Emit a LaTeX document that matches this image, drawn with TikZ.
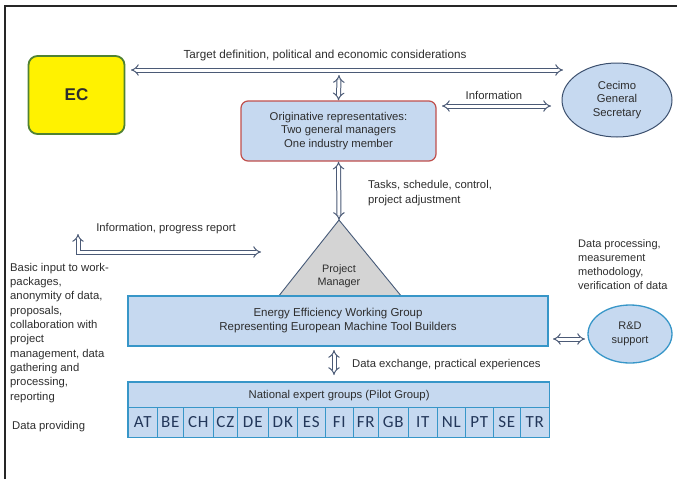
\documentclass[tikz,border=0pt]{standalone}
\usepackage{fontspec}
\setmainfont{Liberation Sans}
\newfontfamily\cellfont[LetterSpace=5]{Carlito}
\usetikzlibrary{arrows.meta,shapes.geometric}
\definecolor{lb}{RGB}{198,217,240}
\definecolor{eeb}{RGB}{55,150,200}
\definecolor{redb}{RGB}{192,80,77}
\definecolor{arr}{RGB}{75,90,118}
\definecolor{ellb}{RGB}{60,80,110}
\definecolor{trif}{RGB}{212,212,212}
\definecolor{trib}{RGB}{70,90,120}
\definecolor{ecb}{RGB}{80,130,50}
\definecolor{txt}{RGB}{45,45,45}
\definecolor{celltxt}{RGB}{35,55,90}
\tikzset{
  dbl/.style={draw=arr, double=white, double distance=3pt, line width=1pt, {Implies}-{Implies}},
  lbl/.style={font=\fontsize{11.3}{13}\selectfont, text=txt, inner sep=0pt},
  cell/.style={draw=eeb, fill=lb, line width=0.6pt, minimum height=30, inner sep=0pt, font=\cellfont\fontsize{17}{19}\selectfont, text=celltxt},
}
\begin{document}
\begin{tikzpicture}[x=1pt,y=-1pt]
\useasboundingbox (0,0) rectangle (677,479);
\draw[line width=1.3pt, black!85] (5,479) -- (5,6) -- (677,6);

% boxes
\node[draw=ecb, fill=yellow, line width=1.8pt, rounded corners=9pt, minimum width=96, minimum height=78, font=\bfseries\fontsize{17}{19}\selectfont, text=txt] (ec) at (76.5,95) {EC};
\node[draw=redb, fill=lb, line width=1.2pt, rounded corners=7pt, minimum width=195, minimum height=60, align=center, font=\fontsize{11.3}{13.5}\selectfont, text=txt] (orig) at (338.5,131) {Originative representatives:\\Two general managers\\One industry member};
\node[draw=ellb, fill=lb, ellipse, line width=1pt, minimum width=110, minimum height=74, inner sep=0pt, align=center, font=\fontsize{11.3}{13.5}\selectfont, text=txt] (cec) at (617,100) {Cecimo\\General\\Secretary};

% project manager triangle
\coordinate (apex) at (339,220);
\coordinate (bl) at (278,297);
\coordinate (br) at (402,297);
\draw[draw=trib, fill=trif, line width=0.9pt] (bl) -- (apex) -- (br) -- cycle;
\node[align=center, font=\fontsize{10.8}{13}\selectfont, text=txt] (pm) at (339,276) {Project\\Manager};

\node[draw=eeb, fill=lb, line width=1.3pt, minimum width=420, minimum height=50, align=center, font=\fontsize{11.5}{14}\selectfont, text=txt] (ee) at (338,321) {Energy Efficiency Working Group\\Representing European Machine Tool Builders};
\node[draw=eeb, fill=lb, ellipse, line width=1.3pt, minimum width=84, minimum height=58, inner sep=0pt, align=center, font=\fontsize{11}{13.5}\selectfont, text=txt] (rd) at (630,334) {R\&D\\support};

% national expert groups
\node[draw=eeb, fill=lb, line width=1.2pt, minimum width=421, minimum height=25, anchor=north west, inner sep=0pt, font=\fontsize{11.3}{13}\selectfont, text=txt] (nat) at (128,382) {National expert groups (Pilot Group)};
\foreach \n/\a/\b in {AT/128/157,BE/157/183,CH/183/213,CZ/213/237,DE/237/268,DK/268/297,ES/297/325,FI/325/353,FR/353/378,GB/378/408,IT/408/437,NL/437/465,PT/465/493,SE/493/520,TR/520/549}{
  \node[cell, minimum width={\b-\a}, anchor=north west] (c\n) at (\a,407) {\n};
}
\draw[eeb, line width=1.2pt] (nat.north west) rectangle (cTR.south east);

% connectors
\coordinate (t1) at (131,70);
\coordinate (t2) at (563,70);
\draw[dbl] (t1) -- (t2);
\coordinate (t3) at (339,75);
\draw[dbl] (t3) -- (orig.north);
\coordinate (i1) at (442,106);
\coordinate (i2) at (551,106);
\draw[dbl] (i1) -- (i2);
\draw[dbl] (orig.south) -- (apex);
\coordinate (p1) at (78,234);
\coordinate (p2) at (261,252);
\draw[dbl] (p1) |- (p2);
\coordinate (r1) at (553,339);
\coordinate (r2) at (585,339);
\draw[dbl] (r1) -- (r2);
\coordinate (n1) at (334,350);
\draw[dbl] (n1) -- (334,375) coordinate (n2);

% labels
\node[lbl, font=\fontsize{11.7}{13}\selectfont] (l1) at (325,55) {Target definition, political and economic considerations};
\node[lbl] (l2) at (494,95) {Information};
\node[lbl, anchor=north west, align=left, font=\fontsize{11.3}{15}\selectfont] (l3) at (368,180) {Tasks, schedule, control,\\project adjustment};
\node[lbl] (l4) at (166,229) {Information, progress report};
\node[lbl, anchor=north west, align=left, font=\fontsize{11}{14.2}\selectfont] (l5) at (578,239) {Data processing,\\measurement\\methodology,\\verification of data};
\node[lbl, anchor=north west, align=left, font=\fontsize{11.3}{14.3}\selectfont] (l6) at (10,263) {Basic input to work-\\packages,\\anonymity of data,\\proposals,\\collaboration with\\project\\management, data\\gathering and\\processing,\\reporting};
\node[lbl, anchor=west] (l7) at (12,427) {Data providing};
\node[lbl, anchor=west] (l8) at (352,365) {Data exchange, practical experiences};
\end{tikzpicture}
\end{document}
